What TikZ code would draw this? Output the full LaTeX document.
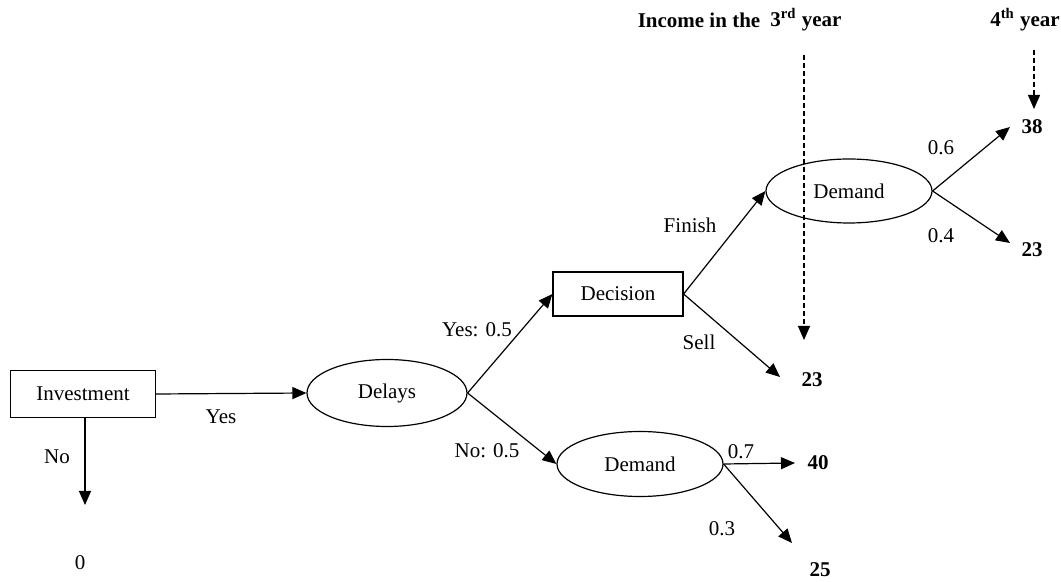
\documentclass[tikz,border=0pt]{standalone}
\usepackage{fontspec}
\setmainfont{Liberation Serif}
\usetikzlibrary{arrows.meta,shapes.geometric}

\begin{document}
\begin{tikzpicture}[x=0.5pt, y=-0.5pt, line width=0.6pt,
		font=\fontsize{10.5}{12}\selectfont,
		box/.style={draw, inner sep=0pt},
		chance/.style={draw, ellipse, inner sep=0pt},
		pay/.style={font=\fontsize{10.5}{12}\selectfont\bfseries},
		arr/.style={-{Triangle[length=7pt, width=6pt]}},
		yearline/.style={arr, dash pattern=on 2.3pt off 1.7pt}]
		\useasboundingbox (0,0) rectangle (1061,582);
		% decision and chance nodes
		\node[box, minimum width=72.5pt, minimum height=23.5pt] (invest) at (83,394) {Investment};
		\node[chance, minimum width=80pt, minimum height=33.5pt] (delays) at (387,393) {Delays};
		\node[box, minimum width=65pt, minimum height=22pt] (decision) at (618,294) {Decision};
		\node[chance, minimum width=83pt, minimum height=32pt] (demandA) at (849,191) {Demand};
		\node[chance, minimum width=83pt, minimum height=32.5pt] (demandB) at (640,464) {Demand};
		% payoffs
		\node (zero) at (80,563) {0};
		\node[pay] (p38) at (1032,127) {38};
		\node[pay] (p23a) at (1032,250) {23};
		\node[pay] (p23b) at (812,380) {23};
		\node[pay] (p40) at (818,463) {40};
		\node[pay] (p25) at (820,570) {25};
		% arrow tips near the payoffs
		\coordinate (t38) at (1010,127);
		\coordinate (t23a) at (1010,243);
		\coordinate (t23b) at (780,377);
		\coordinate (t40) at (795,463);
		\coordinate (t25) at (792,543);
		\coordinate (tzero) at (85,505);
		% branches
		\draw[arr] (invest.east) -- (delays.west);
		\draw[arr] (invest.south -| tzero) -- (tzero);
		\draw[arr] (delays.east) -- (decision.west);
		\draw[arr] (delays.east) -- (demandB.west);
		\draw[arr] (decision.east) -- (demandA.west);
		\draw[arr] (decision.east) -- (t23b);
		\draw[arr] (demandA.east) -- (t38);
		\draw[arr] (demandA.east) -- (t23a);
		\draw[arr] (demandB.east) -- (t40);
		\draw[arr] (demandB.east) -- (t25);
		% branch labels
		\foreach \n/\p/\t in {lyes/{(221,417)}/Yes, lno/{(57,457)}/No, lyesh/{(477,330)}/Yes: 0.5,
			lnoh/{(487,451)}/No: 0.5, lfin/{(690,225)}/Finish, lsell/{(699,342)}/Sell,
			lsix/{(941,148)}/0.6, lfour/{(941,236)}/0.4, lseven/{(741,452)}/0.7, lthree/{(722,529)}/0.3}
			\node (\n) at \p {\t};
		% years
		\node[pay] (income) at (699,20) {Income in the};
		\node[pay] (third) at (806,20) {3\textsuperscript{rd} year};
		\node[pay] (fourth) at (1025,20) {4\textsuperscript{th} year};
		\coordinate (thirdA) at (804,55);
		\coordinate (thirdB) at (804,340);
		\coordinate (fourthA) at (1034,50);
		\coordinate (fourthB) at (1034,109);
		\draw[yearline] (thirdA) -- (thirdB);
		\draw[yearline] (fourthA) -- (fourthB);
	\end{tikzpicture}
\end{document}
